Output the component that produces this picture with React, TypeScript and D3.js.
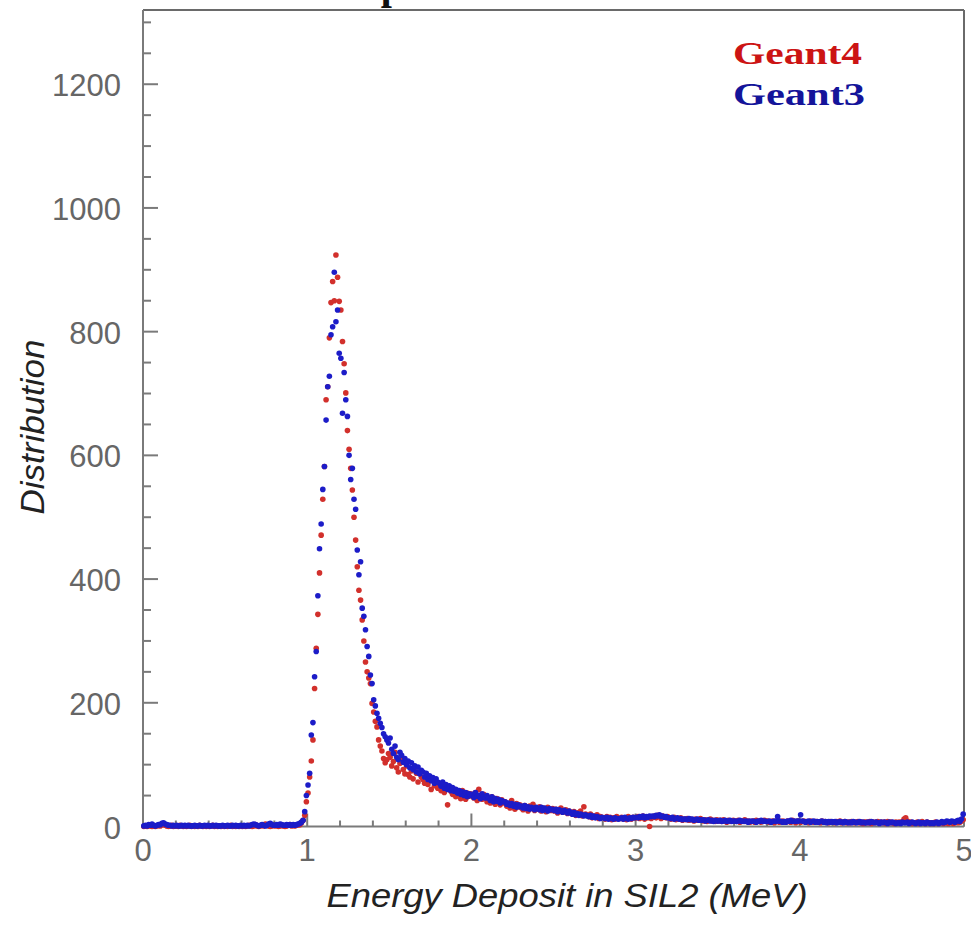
import React from "react";
import * as d3 from "d3";

// ---------------- DATA (bin contents, 0.01 MeV bins from 0 to 5 MeV) ----------------
const X_MIN = 0;
const BIN_WIDTH = 0.01;

const geant4Values: number[] = [
  // 0.00 - 0.94
  0,1,0,2,1,0,1,0,1,2, 1,3,4,2,1,0,1,2,0,1, 1,0,2,1,0,1,0,1,2,0, 1,0,1,0,2,1,0,1,0,1,
  0,1,2,0,1,0,1,0,1,0, 1,0,1,2,0,1,0,1,0,1, 0,1,0,1,2,1,0,1,3,1, 0,1,2,1,4,3,1,0,1,2,
  1,2,0,1,2,1,0,1,2,3, 1,2,1,2,3,
  // 0.95 - 1.17 rising edge
  3,6,10,18,40,54,80,106,140,223,288,343,410,471,529,582,690,711,790,847,881,850,924,
  // 1.18 - 1.49 falling edge
  888,849,835,784,748,701,640,610,579,544,500,463,420,382,366,334,300,266,250,240,
  231,199,185,170,161,140,130,122,110,103,108,118,
  // 1.50 - 4.99 tail
  112,98,105,120,95,88,102,110,92,85,
  98,84,80,90,77,95,86,72,88,80,
  76,70,85,68,74,60,78,66,72,62,
  66,58,70,55,62,35,64,57,52,60,
  48,56,52,45,58,50,44,54,49,53,
  50,46,55,42,60,48,44,52,47,40,
  44,38,48,42,36,45,40,35,43,38,
  40,33,36,30,42,34,28,37,32,35,
  30,27,34,31,25,33,29,36,26,30,
  28,32,25,30,27,24,31,28,26,29,
  25,28,22,26,30,23,24,27,21,25,
  23,20,24,18,22,19,25,17,32,20,
  18,16,20,14,17,15,19,13,16,15,
  14,12,16,13,15,11,14,12,16,13,
  13,15,12,14,11,16,13,12,15,14,
  14,16,13,15,17,12,15,14,0,13,
  15,17,14,18,16,13,17,15,14,16,
  14,12,13,15,11,13,12,14,10,12,
  11,13,10,12,11,9,12,10,11,13,
  10,9,11,8,10,12,9,10,8,11,
  9,10,8,11,9,7,10,8,9,10,
  9,8,10,7,9,8,11,8,9,7,
  8,9,7,10,8,9,7,8,10,8,
  9,7,8,9,6,8,10,7,8,9,
  8,7,9,8,7,10,8,6,9,8,
  7,8,9,7,8,6,9,8,7,8,
  8,7,6,9,7,8,7,6,8,7,
  7,6,8,7,9,6,7,8,6,7,
  6,8,7,6,7,8,6,7,5,7,
  7,6,8,5,7,6,7,8,6,7,
  6,7,5,8,6,7,6,5,7,6,
  7,6,8,12,14,9,6,7,5,6,
  6,7,5,6,8,6,5,7,6,5,
  6,5,7,6,5,6,7,5,6,6,
  5,7,6,5,6,8,6,7,9,11,
];

const geant3Values: number[] = [
  // 0.00 - 0.94
  1,2,1,3,2,4,2,1,2,3, 3,5,6,4,3,2,2,1,2,1, 2,1,1,2,1,2,1,2,1,1, 1,2,1,1,2,1,1,2,1,2,
  1,1,2,1,2,1,1,1,2,1, 1,2,1,1,2,1,2,1,1,2, 1,2,1,2,1,2,3,4,3,2, 1,2,3,2,1,2,4,5,3,2,
  2,3,2,4,3,2,2,3,2,3, 2,3,2,3,4,
  // 0.95 - 1.17 rising edge
  5,7,10,24,50,67,86,148,168,242,283,373,449,489,545,582,657,711,728,795,808,896,816,
  // 1.18 - 1.49 falling edge
  835,765,757,668,734,690,663,600,561,579,529,513,447,407,428,353,340,318,291,275,
  245,231,205,195,183,175,167,160,150,145,140,135,
  // 1.50 - 4.99 tail
  143,125,118,130,112,108,120,115,104,110,
  100,106,95,103,92,98,88,96,85,91,
  88,80,86,76,82,74,79,70,77,72,
  70,65,72,62,68,60,66,58,63,57,
  60,54,58,52,56,50,55,48,53,50,
  52,47,55,49,50,45,53,48,46,50,
  46,42,48,40,45,41,44,38,42,40,
  40,36,38,34,37,33,36,31,35,32,
  33,30,34,29,32,28,31,30,27,31,
  29,27,31,26,30,28,25,29,27,28,
  26,28,24,27,25,23,26,24,22,25,
  22,20,23,19,21,18,20,19,17,19,
  17,16,18,15,17,14,16,15,13,15,
  14,13,15,12,14,13,12,14,13,12,
  13,14,12,15,13,12,14,13,15,14,
  15,14,16,15,17,14,16,15,17,16,
  17,16,18,17,19,16,17,15,16,14,
  14,13,15,12,13,14,12,13,11,12,
  12,11,13,11,12,10,11,12,10,11,
  10,11,9,10,11,9,10,8,10,9,
  9,10,8,9,10,8,9,10,8,9,
  9,8,9,10,8,9,8,9,7,9,
  8,9,8,7,9,8,10,8,9,8,
  8,9,7,8,9,8,16,9,8,7,
  8,7,9,8,10,8,9,8,9,9,
  19,9,8,7,8,9,7,8,9,7,
  8,7,8,9,7,8,6,8,7,8,
  7,8,6,7,8,7,6,8,7,6,
  7,6,8,7,6,7,8,6,7,6,
  6,7,6,8,7,6,7,6,5,7,
  6,7,6,5,7,6,7,6,5,6,
  6,5,7,6,6,7,5,6,7,6,
  5,6,7,5,6,6,5,7,6,5,
  6,5,6,7,5,6,8,6,7,9,
  8,7,9,8,7,9,10,8,12,20,
];

const xMajorTicks = [0, 1, 2, 3, 4, 5];
const yMajorTicks = [0, 200, 400, 600, 800, 1000, 1200];
const legendLabels = ["Geant4", "Geant3"];
const xAxisTitle = "Energy Deposit in SIL2 (MeV)";
const yAxisTitle = "Distribution";
const titleText = "Deposit";

// ---------------- LAYOUT ----------------
const W = 971;
const H = 936;
const PLOT = { left: 143, right: 964, top: 10, bottom: 826.5 };
const RED = "#d2302c";
const BLUE = "#1c1cc8";
const AXIS = "#7a7a7a";
const LABEL = "#666";

export default function App() {
  const x = d3.scaleLinear().domain([0, 5]).range([PLOT.left, PLOT.right]);
  const y = d3.scaleLinear().domain([0, 1320]).range([PLOT.bottom, PLOT.top]);

  const xMinor = d3.range(0, 5.0001, 0.2).filter((t) => Math.abs(t - Math.round(t)) > 1e-6);
  const yMinor = d3.range(0, 1320, 50).filter((t) => t % 200 !== 0);

  const pts = (vals: number[]) =>
    vals.map((v, i) => ({ cx: x(X_MIN + BIN_WIDTH * (i + 0.5)), cy: y(v) }));

  const red = pts(geant4Values);
  const blue = pts(geant3Values);

  return (
    <svg
      width={W}
      height={H}
      style={{ position: "absolute", left: 0, top: 0, background: "#fff" }}
      fontFamily="'Liberation Sans', Arial, Helvetica, sans-serif"
    >
      <rect x={0} y={0} width={W} height={H} fill="#fff" />
      {/* title, cut off by the top edge in the original image */}
      <text x={334} y={-1} fontFamily="'Liberation Serif', 'Times New Roman', serif" fontWeight="bold" fontSize={40} fill="#111">
        {titleText}
      </text>

      {/* frame */}
      <line x1={PLOT.left} x2={PLOT.right} y1={PLOT.top} y2={PLOT.top} stroke="#6a6a6a" strokeWidth={2} />
      <line x1={PLOT.right} x2={PLOT.right} y1={PLOT.top} y2={PLOT.bottom} stroke="#6a6a6a" strokeWidth={2} />
      <line x1={PLOT.left} x2={PLOT.left} y1={PLOT.top} y2={PLOT.bottom} stroke={AXIS} strokeWidth={2} />
      <line x1={PLOT.left} x2={PLOT.right} y1={PLOT.bottom} y2={PLOT.bottom} stroke={AXIS} strokeWidth={2} />

      {/* y ticks */}
      {yMajorTicks.map((t) => (
        <g key={"ym" + t}>
          <line x1={PLOT.left} x2={PLOT.left + 15} y1={y(t)} y2={y(t)} stroke={AXIS} strokeWidth={2} />
          <text x={121} y={y(t) + 12} textAnchor="end" fontSize={31} fill={LABEL}>
            {t}
          </text>
        </g>
      ))}
      {yMinor.map((t) => (
        <line key={"yn" + t} x1={PLOT.left} x2={PLOT.left + 8} y1={y(t)} y2={y(t)} stroke={AXIS} strokeWidth={2} />
      ))}

      {/* x ticks */}
      {xMajorTicks.map((t) => (
        <g key={"xm" + t}>
          <line x1={x(t)} x2={x(t)} y1={PLOT.bottom} y2={PLOT.bottom - 13} stroke={AXIS} strokeWidth={2} />
          <text x={x(t)} y={861} textAnchor="middle" fontSize={31} fill={LABEL}>
            {t}
          </text>
        </g>
      ))}
      {xMinor.map((t) => (
        <line key={"xn" + t} x1={x(t)} x2={x(t)} y1={PLOT.bottom} y2={PLOT.bottom - 6} stroke={AXIS} strokeWidth={2} />
      ))}

      {/* data */}
      <g>
        {red.map((p, i) => (
          <circle key={"r" + i} cx={p.cx} cy={p.cy} r={2.8} fill={RED} />
        ))}
      </g>
      <g>
        {blue.map((p, i) => (
          <circle key={"b" + i} cx={p.cx} cy={p.cy} r={2.8} fill={BLUE} />
        ))}
      </g>

      {/* legend */}
      <text x={733} y={64} fontFamily="'Liberation Serif', 'Times New Roman', serif" fontWeight="bold" fontSize={31} fill="#cc1414" textLength={129} lengthAdjust="spacingAndGlyphs">
        {legendLabels[0]}
      </text>
      <text x={733} y={105} fontFamily="'Liberation Serif', 'Times New Roman', serif" fontWeight="bold" fontSize={31} fill="#14149a" textLength={132} lengthAdjust="spacingAndGlyphs">
        {legendLabels[1]}
      </text>

      {/* axis titles */}
      <text x={567} y={907} textAnchor="middle" fontStyle="italic" fontSize={34} fill="#222" textLength={481} lengthAdjust="spacingAndGlyphs">
        {xAxisTitle}
      </text>
      <text transform="translate(44,427) rotate(-90)" textAnchor="middle" fontStyle="italic" fontSize={34} fill="#222" textLength={175} lengthAdjust="spacingAndGlyphs">
        {yAxisTitle}
      </text>
    </svg>
  );
}
